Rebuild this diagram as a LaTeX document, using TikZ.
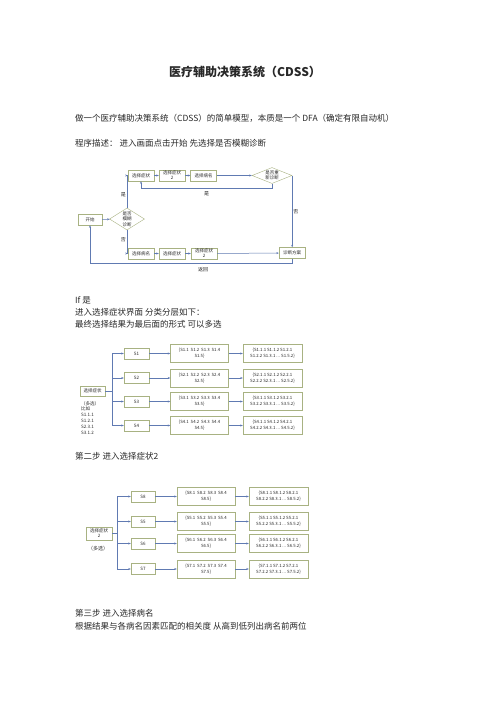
\documentclass[tikz,border=0pt]{standalone}
\usepackage{fontspec}
\setmainfont{Noto Sans CJK SC}
\usetikzlibrary{shapes.geometric,arrows.meta}
\definecolor{lineblue}{RGB}{96,122,178}
\definecolor{boxgreen}{RGB}{168,178,130}
\definecolor{txtgray}{RGB}{40,40,40}
\begin{document}
\begin{tikzpicture}
  [x=1pt, y=-1pt, >={Stealth[length=2.5pt,width=2pt]},
   box/.style={draw=boxgreen, fill=white, inner sep=0.5pt, minimum width=26pt, minimum height=11pt, align=center, font=\fontsize{4.5}{5}\selectfont, text=txtgray},
   dia/.style={diamond, draw=boxgreen, fill=white, inner sep=0pt, align=center, font=\fontsize{4.5}{5.5}\selectfont, text=txtgray},
   setbox/.style={box, minimum width=58pt, minimum height=18pt, font=\fontsize{4.3}{6}\selectfont},
   txt/.style={anchor=west, inner sep=0pt, font=\fontsize{8.5}{10}\selectfont, text=txtgray},
   lbl/.style={font=\fontsize{5}{6}\selectfont, text=txtgray, inner sep=1pt},
   conn/.style={draw=lineblue, line width=0.5pt}]
  \path[fill=white, use as bounding box] (0,0) rectangle (496,702);
  % texts of the page
  \node[txt, anchor=center, font=\bfseries\fontsize{12}{14}\selectfont] (tt) at (245,72) {医疗辅助决策系统（CDSS）};
  \node[txt] (l1) at (75,118) {做一个医疗辅助决策系统（CDSS）的简单模型，本质是一个 DFA（确定有限自动机）};
  \node[txt] (l2) at (75,143) {程序描述： 进入画面点击开始 先选择是否模糊诊断};
  \node[txt] (l3) at (75,300) {If 是};
  \node[txt] (l4) at (75,312) {进入选择症状界面 分类分层如下：};
  \node[txt] (l5) at (75,324) {最终选择结果为最后面的形式 可以多选};
  \node[txt] (l6) at (75,456) {第二步 进入选择症状2};
  \node[txt] (l7) at (75,613) {第三步 进入选择病名};
  \node[txt] (l8) at (75,626) {根据结果与各病名因素匹配的相关度 从高到低列出病名前两位};
  % flow chart
  \node[box, minimum width=24pt] (st) at (90,219.5) {开始};
  \node[dia, aspect=1.6, minimum width=35pt, minimum height=22pt] (d1) at (127,219) {是否\\模糊\\诊断};
  \node[box] (a1) at (141,175.5) {选择症状};
  \node[box] (a2) at (172,175.5) {选择症状\\2};
  \node[box] (a3) at (203.5,175.5) {选择病名};
  \node[dia, aspect=2.4, minimum width=40pt, minimum height=16pt] (d2) at (272,175.5) {是否重\\新诊断};
  \node[box] (b1) at (141,253.5) {选择病名};
  \node[box] (b2) at (172,253.5) {选择症状};
  \node[box] (b3) at (204,253.5) {选择症状\\2};
  \node[box] (e) at (292,253) {诊断方案};
  \draw[conn,->] (st) -- (d1);
  \draw[conn,->] (d1.north) |- node[lbl,pos=0.2,left]{是} (a1.west);
  \draw[conn,->] (a1) -- (a2);
  \draw[conn,->] (a2) -- (a3);
  \draw[conn,->] (a3) -- (d2);
  \draw[conn,->] (d2.south) -- ++(0,5) -| node[lbl,pos=0.25,below=2pt]{是} (a1.south);
  \draw[conn,->] (d2.east) -- node[lbl,right]{否} (d2.east |- e.north);
  \draw[conn,->] (d1.south) |- node[lbl,pos=0.2,left]{否} (b1.west);
  \draw[conn,->] (b1) -- (b2);
  \draw[conn,->] (b2) -- (b3);
  \draw[conn,->] (b3) -- (e);
  \draw[conn,->] (e.south) -- ++(0,5) -| node[lbl,pos=0.22,below=2pt]{返回} (st.south);
  % first step
  \node[box, minimum width=25pt, minimum height=10pt] (r1) at (92.5,391) {选择症状};
  \node[lbl, anchor=north west, align=left, font=\fontsize{4.5}{5.8}\selectfont] (n1) at (80,400) {（多选）\\比如\\S1.1.1\\S1.2.1\\S2.3.1\\S3.1.2};
  \coordinate (t1) at (112,391);
  \draw[conn] (r1) -- (t1);
  \foreach \i/\y in {1/353.5,2/378,3/401.5,4/425.5} {
    \node[box, minimum width=25pt] (s\i) at (136.5,\y) {S\i};
    \node[setbox] (p\i) at (199.5,\y) {\{S\i.1\ \ S\i.2\ \ S\i.3\ \ S\i.4\\S\i.5\}};
    \node[setbox, minimum width=59pt] (q\i) at (272.5,\y) {\{S\i.1.1 S\i.1.2 S\i.2.1\\S\i.2.2 S\i.3.1 ... S\i.5.2\}};
    \draw[conn,->] (t1) |- (s\i);
    \draw[conn,->] (s\i) -- (p\i);
    \draw[conn,->] (p\i) -- (q\i);
  }
  % second step
  \node[box, minimum height=13pt] (r2) at (99,533.5) {选择症状\\2};
  \node[lbl] (n2) at (98,549) {（多选）};
  \coordinate (t2) at (117,533.5);
  \draw[conn] (r2) -- (t2);
  \foreach \i/\y in {8/496.5,5/521.5,6/543.5,7/569} {
    \node[box, minimum width=24pt] (s\i) at (143,\y) {S\i};
    \node[setbox] (p\i) at (206,\y) {\{S\i.1\ \ S\i.2\ \ S\i.3\ \ S\i.4\\S\i.5\}};
    \node[setbox, minimum width=59pt] (q\i) at (278.5,\y) {\{S\i.1.1 S\i.1.2 S\i.2.1\\S\i.2.2 S\i.3.1 ... S\i.5.2\}};
    \draw[conn,->] (t2) |- (s\i);
    \draw[conn,->] (s\i) -- (p\i);
    \draw[conn,->] (p\i) -- (q\i);
  }
\end{tikzpicture}
\end{document}
